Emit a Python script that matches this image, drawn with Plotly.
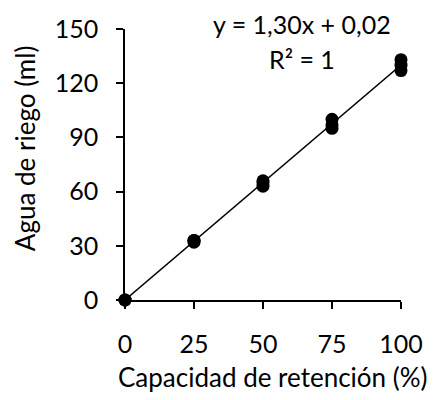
import plotly.graph_objects as go

# Measured points: retention capacity (%) vs. irrigation water (ml)
capacidad = [0, 0, 0, 25, 25, 25, 50, 50, 50, 75, 75, 75, 100, 100, 100]
agua = [0, 0, 0, 32, 33, 33, 63, 65, 66, 95, 97, 100, 127, 130, 133]

# Linear trendline coefficients
pendiente = 1.30
intercepto = 0.02
tendencia_x = [0, 100]
tendencia_y = [pendiente * x + intercepto for x in tendencia_x]

x_ticks = [0, 25, 50, 75, 100]
y_ticks = [0, 30, 60, 90, 120, 150]

FONT = "Lato"
TICK_SIZE = 25
TITLE_SIZE = 26
fig = go.Figure()

fig.add_trace(go.Scatter(
    x=tendencia_x, y=tendencia_y, mode="lines",
    line=dict(color="black", width=1.5),
    cliponaxis=False, showlegend=False, hoverinfo="skip",
))
fig.add_trace(go.Scatter(
    x=capacidad, y=agua, mode="markers",
    marker=dict(color="black", size=13),
    cliponaxis=False, showlegend=False,
))

# Trendline equation and R²
fig.add_annotation(
    x=0.64, y=1.0, xref="paper", yref="paper",
    text="y = 1,30x + 0,02", showarrow=False,
    font=dict(family=FONT, size=TICK_SIZE, color="black"),
    xanchor="center", yanchor="middle", yshift=5,
)
fig.add_annotation(
    x=0.64, y=1.0, xref="paper", yref="paper",
    text="R² = 1", showarrow=False,
    font=dict(family=FONT, size=TICK_SIZE, color="black"),
    xanchor="center", yanchor="middle", yshift=-30,
)

# Axis titles
fig.add_annotation(
    x=0.536, y=-0.284, xref="paper", yref="paper",
    text="Capacidad de retención (%)", showarrow=False,
    font=dict(family=FONT, size=TITLE_SIZE, color="black"),
    xanchor="center", yanchor="middle",
)
fig.add_annotation(
    x=-0.362, y=0.557, xref="paper", yref="paper",
    text="Agua de riego (ml)", showarrow=False, textangle=-90,
    font=dict(family=FONT, size=TITLE_SIZE, color="black"),
    xanchor="center", yanchor="middle",
)

fig.update_xaxes(
    range=[0, 100], tickvals=x_ticks, ticks="outside", ticklen=7,
    tickwidth=1.5, tickcolor="black",
    showline=True, linecolor="black", linewidth=1.5,
    showgrid=False, zeroline=False, ticklabelstandoff=14,
    tickfont=dict(family=FONT, size=TICK_SIZE, color="black"),
)
fig.update_yaxes(
    range=[0, 150], tickvals=y_ticks, ticks="outside", ticklen=7,
    tickwidth=1.5, tickcolor="black",
    showline=True, linecolor="black", linewidth=1.5,
    showgrid=False, zeroline=False, ticklabelstandoff=13,
    tickfont=dict(family=FONT, size=TICK_SIZE, color="black"),
)

fig.update_layout(
    width=443, height=400,
    margin=dict(l=125, r=42, t=29, b=100),
    paper_bgcolor="white", plot_bgcolor="white",
)

fig.write_html("out.html")
